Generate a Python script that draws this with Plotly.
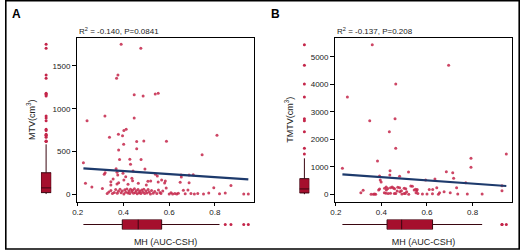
import plotly.graph_objects as go

W, H = 520, 251

# ---------------- Panel A data: MH (AUC-CSH) vs MTV ----------------
a_mh = [
    0.390, 0.476, 0.376, 0.370, 0.447, 0.486, 0.539, 0.552, 0.241, 0.319,
    0.447, 0.339, 0.378, 0.396, 0.402, 0.412, 0.401, 0.458, 0.489, 0.588, 0.809,
    0.379, 0.458, 0.744, 0.225, 0.383, 0.428, 0.431, 0.477, 0.368, 0.372,
    0.494, 0.316, 0.320, 0.398, 0.442, 0.540, 0.548, 0.375, 0.234, 0.345,
    0.372, 0.379, 0.402, 0.437, 0.440, 0.507, 0.519, 0.552, 0.567, 0.583,
    0.580, 0.648, 0.652, 0.687, 0.705, 0.687, 0.653, 0.870, 0.410, 0.355,
    0.465, 0.500, 0.420, 0.345,
    0.262, 0.308, 0.329, 0.336, 0.345, 0.352, 0.360, 0.366, 0.373, 0.378,
    0.385, 0.390, 0.395, 0.402, 0.406, 0.410, 0.415, 0.420, 0.424, 0.428,
    0.431, 0.436, 0.440, 0.444, 0.448, 0.452, 0.456, 0.460, 0.464, 0.468,
    0.472, 0.476, 0.480, 0.485, 0.489, 0.493, 0.498, 0.503, 0.508, 0.513,
    0.518, 0.523, 0.530, 0.537, 0.546, 0.553, 0.560, 0.564, 0.572, 0.587,
    0.600, 0.608, 0.615, 0.625, 0.633, 0.640, 0.662, 0.670, 0.682, 0.695,
    0.710, 0.725, 0.750, 0.773, 0.795, 0.820, 0.845, 0.926, 0.946,
]
a_mtv = [
    1752, 1705, 1394, 1357, 1164, 1148, 1172, 1180, 858, 915,
    891, 666, 701, 684, 745, 760, 584, 618, 623, 621, 690,
    517, 533, 463, 369, 406, 409, 352, 406, 300, 257,
    296, 234, 252, 245, 272, 234, 214, 225, 128, 147,
    120, 136, 167, 187, 159, 152, 155, 144, 167, 155,
    132, 140, 225, 225, 229, 135, 202, 102, 205, 180,
    130, 110, 118, 108,
    84, 67, 10, 28, 45, 8, 22, 55, 12, 35,
    60, 18, 40, 5, 52, 25, 62, 15, 38, 8,
    58, 30, 48, 12, 65, 22, 42, 6, 55, 18,
    35, 10, 50, 25, 60, 8, 40, 15, 55, 28,
    5, 45, 12, 33, 8, 50, 20, 10, 38, 74,
    5, 18, 5, 8, 3, 12, 47, 6, 50, 10,
    5, 8, 4, 15, 76, 6, 15, 4, 4,
]
a_fit_x = [0.225, 0.946]
a_fit_y = [304, 175]
a_title = "R<sup>2</sup> = -0.140, P=0.0841"
a_ylabel = "MTV(cm<sup>3</sup>)"
a_yticks = [0, 500, 1000, 1500]

# ---------------- Panel B data: MH (AUC-CSH) vs TMTV ----------------
b_mh = [
    0.360, 0.695, 0.463, 0.251, 0.349, 0.460, 0.435, 0.463, 0.948, 0.793,
    0.383, 0.793, 0.229, 0.438, 0.519, 0.685, 0.713, 0.437, 0.480, 0.392, 0.717,
    0.635, 0.594, 0.395, 0.399, 0.770, 0.929, 0.529, 0.536, 0.447, 0.421,
    0.472, 0.730, 0.643, 0.480, 0.440, 0.453, 0.414, 0.500, 0.428, 0.507,
    0.458, 0.392, 0.550, 0.610, 0.625, 0.557, 0.544, 0.388, 0.422,
    0.929, 0.488, 0.555, 0.469, 0.320, 0.481, 0.511, 0.675, 0.310, 0.413,
    0.552, 0.655, 0.702, 0.420, 0.440, 0.560, 0.500, 0.505, 0.457, 0.463,
    0.430, 0.624, 0.842, 0.777, 0.580, 0.355, 0.365, 0.375, 0.370, 0.490,
    0.520, 0.600, 0.650, 0.735,
]
b_tmtv = [
    5440, 4690, 4011, 3538, 2677, 2750, 2277, 1672, 1465, 1309,
    1211, 982, 945, 860, 811, 823, 786, 702, 654, 665, 582,
    556, 520, 520, 447, 422, 313, 302, 291, 265, 265,
    255, 240, 240, 240, 240, 229, 218, 218, 211, 204,
    200, 190, 185, 175, 175, 175, 156, 156, 156,
    131, 131, 130, 120, 145, 95, 95, 95, 58, 58,
    58, 58, 58, 40, 40, 30, 30, 30, 30, 30,
    30, 22, 11, 11, 11, 5, 3, 5, 8, 8,
    5, 10, 5, 10,
]
b_fit_x = [0.229, 0.948]
b_fit_y = [727, 302]
b_title = "R<sup>2</sup> = -0.137, P=0.208"
b_ylabel = "TMTV(cm<sup>3</sup>)"
b_yticks = [0, 1000, 2000, 3000, 4000, 5000]

x_ticks = [0.2, 0.4, 0.6, 0.8]
x_label = "MH (AUC-CSH)"

# ---------------- styling ----------------
PT = "#c4264a"
BOXFILL = "#a50f2d"
BOXLINE = "#3a0610"
FIT = "#1d3a6c"
FONT = "Liberation Sans, Arial, sans-serif"
NARROW = "Liberation Sans Narrow, Liberation Sans, Arial, sans-serif"


def px(x):
    return x / W


def py(y):
    return 1 - y / H


fig = go.Figure()


def add_panel(xs, ys, fx, fy, xa, ya, xl, yb):
    fig.add_trace(go.Scatter(x=xs, y=ys, mode="markers", xaxis=xa, yaxis=ya,
                             marker=dict(size=3, color=PT, opacity=0.85),
                             showlegend=False))
    fig.add_trace(go.Scatter(x=fx, y=fy, mode="lines", xaxis=xa, yaxis=ya,
                             line=dict(color=FIT, width=2.2), showlegend=False))
    box_style = dict(fillcolor=BOXFILL, line=dict(color=BOXLINE, width=1),
                     boxpoints="outliers", jitter=0, pointpos=0, whiskerwidth=0,
                     marker=dict(size=3, color=PT), width=1, showlegend=False)
    fig.add_trace(go.Box(y=ys, x0=0, xaxis=xl, yaxis=ya, **box_style))
    fig.add_trace(go.Box(x=xs, y0=0, orientation="h", xaxis=xa, yaxis=yb, **box_style))


add_panel(a_mh, a_mtv, a_fit_x, a_fit_y, "x", "y", "x3", "y3")
add_panel(b_mh, b_tmtv, b_fit_x, b_fit_y, "x2", "y2", "x4", "y4")

main_ax = dict(showline=True, mirror=True, linecolor="black", linewidth=1,
               ticks="outside", tickcolor="black", tickwidth=1, showgrid=False,
               zeroline=False, tickfont=dict(family=FONT, size=8, color="#222"))
hidden = dict(visible=False, range=[-0.5, 0.5], type="linear", showgrid=False, zeroline=False)

y_dom = [py(201.5), py(38)]
ybox_dom = [py(229.5), py(219.5)]
ttl_font = dict(family=NARROW, size=9, color="#222")

fig.update_layout(
    width=W, height=H, margin=dict(l=0, r=0, t=0, b=0),
    paper_bgcolor="white", plot_bgcolor="white",
    xaxis=dict(domain=[px(72.7), px(251.7)], range=[0.197, 0.972], tickvals=x_ticks,
               ticklen=3, anchor="y",
               title=dict(text=x_label, font=ttl_font, standoff=22), **main_ax),
    yaxis=dict(domain=y_dom, range=[-84, 1826], tickvals=a_yticks, ticklen=4,
               anchor="x",
               title=dict(text=a_ylabel, font=ttl_font, standoff=15), **main_ax),
    xaxis2=dict(domain=[px(333.3), px(511.7)], range=[0.197, 0.972], tickvals=x_ticks,
                ticklen=3, anchor="y2",
                title=dict(text=x_label, font=ttl_font, standoff=22), **main_ax),
    yaxis2=dict(domain=y_dom, range=[-262, 5684], tickvals=b_yticks, ticklen=4,
                anchor="x2",
                title=dict(text=b_ylabel, font=ttl_font, standoff=15), **main_ax),
    xaxis3=dict(domain=[px(36.3), px(46.7)], anchor="free", position=0, **hidden),
    yaxis3=dict(domain=ybox_dom, anchor="free", position=0, **hidden),
    xaxis4=dict(domain=[px(297.3), px(307.3)], anchor="free", position=0, **hidden),
    yaxis4=dict(domain=ybox_dom, anchor="free", position=0, **hidden),
    shapes=[dict(type="rect", xref="paper", yref="paper",
                 x0=px(0.8), x1=px(519.2), y0=py(249), y1=py(0.8),
                 line=dict(color="black", width=1.6))],
)

ann = []
for letter, xc in (("A", 11.5), ("B", 273)):
    ann.append(dict(text=f"<b>{letter}</b>", x=px(xc), y=py(13.7), xref="paper", yref="paper",
                    showarrow=False, xanchor="center", yanchor="middle",
                    font=dict(family=FONT, size=12, color="black")))
for title, xl in ((a_title, 72.7), (b_title, 333.3)):
    ann.append(dict(text=title, x=px(xl), y=py(31), xref="paper", yref="paper",
                    showarrow=False, xanchor="left", yanchor="middle",
                    font=dict(family=FONT, size=8, color="#222")))
fig.update_layout(annotations=ann)

fig.write_html(
    "out.html",
    config={"displayModeBar": False},
    post_script="document.body.style.margin='0';document.body.style.overflow='hidden';",
)
